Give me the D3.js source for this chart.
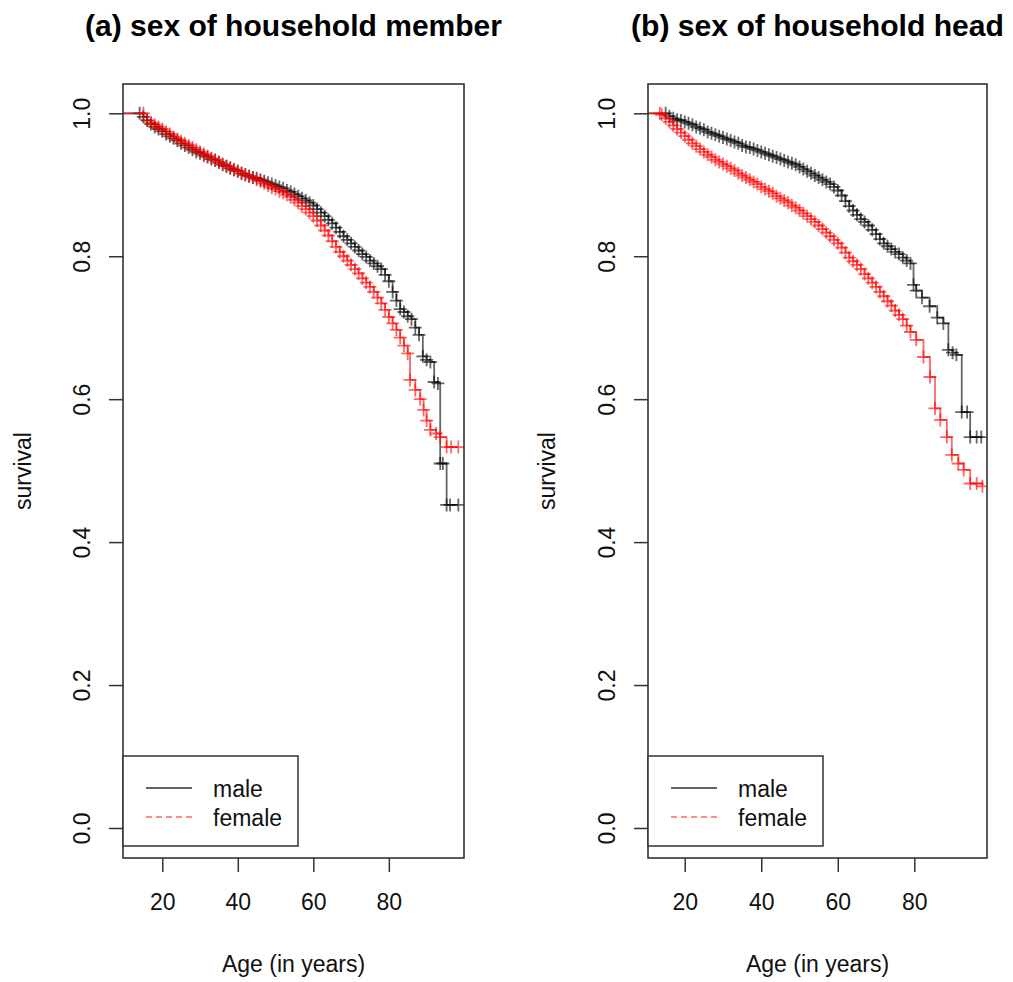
<!DOCTYPE html>
<html>
<head>
<meta charset="utf-8">
<script src="https://cdn.jsdelivr.net/npm/d3@7/dist/d3.min.js"></script>
<style>
  html, body { margin: 0; padding: 0; background: #fff; }
  svg { display: block; font-family: "Liberation Sans", Arial, sans-serif; }
</style>
</head>
<body>
<script>
// ---- data ----
var panelTitles = ["(a) sex of household member", "(b) sex of household head"];
var legendLabels = ["male", "female"];
var xTicks = [20, 40, 60, 80];
var yTicks = [0, 0.2, 0.4, 0.6, 0.8, 1.0];

// (a) sex of household member
var memberMaleAge  = [0, 14, 15, 16, 17, 18, 19, 20, 21, 22, 23, 24, 25, 26, 27, 28, 29, 30, 31, 32, 33, 34, 35, 36, 37, 38, 39, 40, 41, 42, 43, 44, 45, 46, 47, 48, 49, 50, 51, 52, 53, 54, 55, 56, 57, 58, 59, 60, 61, 62, 63, 64, 65, 66, 67, 68, 69, 70, 71, 72, 73, 74, 75, 76, 77, 78, 79, 80, 81, 82, 83, 84, 85, 86, 87, 88, 89, 90, 91, 92, 93, 93.6, 94.3, 95.3, 96.2, 98.4];
var memberMaleSurv = [1, 1, 0.995, 0.99, 0.985, 0.981, 0.978, 0.975, 0.971, 0.968, 0.965, 0.962, 0.958, 0.955, 0.952, 0.949, 0.946, 0.944, 0.941, 0.939, 0.936, 0.934, 0.931, 0.928, 0.926, 0.923, 0.921, 0.919, 0.916, 0.914, 0.912, 0.91, 0.909, 0.907, 0.905, 0.903, 0.901, 0.899, 0.897, 0.895, 0.892, 0.89, 0.887, 0.884, 0.881, 0.878, 0.875, 0.871, 0.866, 0.861, 0.856, 0.851, 0.846, 0.84, 0.834, 0.828, 0.823, 0.818, 0.813, 0.808, 0.803, 0.799, 0.794, 0.79, 0.786, 0.782, 0.774, 0.765, 0.75, 0.738, 0.726, 0.722, 0.716, 0.712, 0.7, 0.69, 0.66, 0.655, 0.652, 0.624, 0.622, 0.51, 0.51, 0.452, 0.452, 0.452];
var memberFemaleAge  = [0, 15, 16, 17, 18, 19, 20, 21, 22, 23, 24, 25, 26, 27, 28, 29, 30, 31, 32, 33, 34, 35, 36, 37, 38, 39, 40, 41, 42, 43, 44, 45, 46, 47, 48, 49, 50, 51, 52, 53, 54, 55, 56, 57, 58, 59, 60, 61, 62, 63, 64, 65, 66, 67, 68, 69, 70, 71, 72, 73, 74, 75, 76, 77, 78, 79, 80, 81, 82, 83, 84, 85, 85.6, 87, 88.3, 89.2, 90, 91, 92.5, 93.6, 95.3, 96.5, 98.4];
var memberFemaleSurv = [1, 1, 0.99, 0.987, 0.984, 0.981, 0.978, 0.974, 0.971, 0.967, 0.964, 0.961, 0.958, 0.955, 0.952, 0.949, 0.946, 0.943, 0.94, 0.937, 0.935, 0.932, 0.929, 0.926, 0.924, 0.921, 0.919, 0.916, 0.914, 0.912, 0.91, 0.907, 0.905, 0.902, 0.899, 0.896, 0.894, 0.891, 0.889, 0.886, 0.883, 0.879, 0.875, 0.87, 0.866, 0.861, 0.856, 0.85, 0.843, 0.836, 0.829, 0.821, 0.813, 0.806, 0.8, 0.794, 0.788, 0.782, 0.776, 0.769, 0.763, 0.757, 0.75, 0.742, 0.734, 0.725, 0.715, 0.706, 0.697, 0.686, 0.675, 0.664, 0.627, 0.613, 0.6, 0.585, 0.57, 0.557, 0.552, 0.547, 0.533, 0.533, 0.533];

// (b) sex of household head
var headMaleAge  = [0, 15, 16, 17, 18, 19, 20, 21, 22, 23, 24, 25, 26, 27, 28, 29, 30, 31, 32, 33, 34, 35, 36, 37, 38, 39, 40, 41, 42, 43, 44, 45, 46, 47, 48, 49, 50, 51, 52, 53, 54, 55, 56, 57, 58, 59, 60, 61, 62, 63, 64, 65, 66, 67, 68, 69, 70, 71, 72, 73, 74, 75, 76, 77, 78, 79, 79.8, 80.5, 82, 84, 86, 87.6, 88.9, 90, 91, 92.4, 93.8, 94.6, 96.3, 97.5];
var headMaleSurv = [1, 1, 0.996, 0.993, 0.991, 0.99, 0.988, 0.986, 0.984, 0.981, 0.979, 0.977, 0.974, 0.972, 0.97, 0.968, 0.966, 0.964, 0.962, 0.96, 0.958, 0.955, 0.953, 0.952, 0.95, 0.948, 0.946, 0.944, 0.942, 0.94, 0.938, 0.936, 0.934, 0.932, 0.93, 0.928, 0.925, 0.922, 0.919, 0.916, 0.913, 0.91, 0.907, 0.904, 0.901, 0.897, 0.892, 0.885, 0.877, 0.87, 0.864, 0.858, 0.852, 0.848, 0.843, 0.837, 0.831, 0.824, 0.818, 0.814, 0.81, 0.806, 0.803, 0.798, 0.794, 0.79, 0.76, 0.752, 0.742, 0.73, 0.714, 0.706, 0.669, 0.665, 0.662, 0.582, 0.582, 0.547, 0.547, 0.547];
var headFemaleAge  = [0, 13.5, 14, 15, 16, 17, 18, 19, 20, 21, 22, 23, 24, 25, 26, 27, 28, 29, 30, 31, 32, 33, 34, 35, 36, 37, 38, 39, 40, 41, 42, 43, 44, 45, 46, 47, 48, 49, 50, 51, 52, 53, 54, 55, 56, 57, 58, 59, 60, 61, 62, 63, 64, 65, 66, 67, 68, 69, 70, 71, 72, 73, 74, 75, 76, 77, 78, 79, 80.5, 82.4, 84.1, 85.4, 86.8, 88.5, 89.8, 91.5, 92.9, 94.6, 96.3, 97.8];
var headFemaleSurv = [1, 1, 0.998, 0.993, 0.988, 0.983, 0.978, 0.973, 0.968, 0.963, 0.958, 0.954, 0.95, 0.946, 0.942, 0.939, 0.935, 0.932, 0.929, 0.926, 0.923, 0.92, 0.916, 0.913, 0.91, 0.907, 0.904, 0.901, 0.897, 0.894, 0.891, 0.888, 0.884, 0.881, 0.878, 0.875, 0.871, 0.868, 0.864, 0.86, 0.856, 0.852, 0.848, 0.843, 0.838, 0.833, 0.828, 0.823, 0.818, 0.812, 0.805, 0.798, 0.793, 0.788, 0.782, 0.775, 0.769, 0.763, 0.757, 0.75, 0.744, 0.737, 0.731, 0.724, 0.718, 0.712, 0.703, 0.694, 0.683, 0.659, 0.631, 0.587, 0.571, 0.547, 0.522, 0.51, 0.501, 0.482, 0.482, 0.478];

var W = 1013, H = 982;
var svg = d3.select("body").append("svg").attr("width", W).attr("height", H);

var maleCol = "rgba(0,0,0,0.6)";
var femaleCol = "rgba(255,0,0,0.6)";

function zip(ages, surv) {
  return ages.map(function (a, i) { return {age: a, s: surv[i]}; });
}

function drawPanel(opts) {
  var x = d3.scaleLinear().domain(opts.xdom).range([opts.left, opts.right]);
  var y = d3.scaleLinear().domain([-0.042, 1.041]).range([858, 84]);
  var g = svg.append("g");
  var clipId = "clip" + opts.id;
  g.append("clipPath").attr("id", clipId).append("rect")
    .attr("x", opts.left).attr("y", 84).attr("width", opts.right - opts.left).attr("height", 774);

  // axes
  var xAxis = g.append("g").attr("transform", "translate(0,858)")
    .call(d3.axisBottom(x).tickValues(xTicks).tickSize(14).tickPadding(22).tickFormat(d3.format("d")));
  var yAxis = g.append("g").attr("transform", "translate(" + opts.left + ",0)")
    .call(d3.axisLeft(y).tickValues(yTicks).tickSize(14).tickFormat(d3.format(".1f")));
  [xAxis, yAxis].forEach(function (a) {
    a.select(".domain").remove();
    a.selectAll("line").attr("stroke", "#333").attr("stroke-width", 1.5);
  });
  xAxis.selectAll("text").attr("font-size", 23).attr("fill", "#111")
    .attr("font-family", "Liberation Sans, Arial, sans-serif").attr("dy", "0.71em");
  yAxis.selectAll("text").attr("font-size", 23).attr("fill", "#111")
    .attr("font-family", "Liberation Sans, Arial, sans-serif")
    .attr("x", null).attr("dy", null)
    .attr("text-anchor", "middle")
    .attr("transform", "translate(" + (opts.tickLabX - opts.left) + ",0) rotate(-90)")
    .attr("y", 0);

  // curves
  var line = d3.line().curve(d3.curveStepAfter)
    .x(function (d) { return x(d.age); }).y(function (d) { return y(d.s); });
  var plot = g.append("g").attr("clip-path", "url(#" + clipId + ")");
  opts.series.forEach(function (ser) {
    var pts = zip(ser.age, ser.surv);
    plot.append("path").datum(pts).attr("d", line)
      .attr("fill", "none").attr("stroke", ser.col).attr("stroke-width", 1.8);
    var hs = 6.5;
    plot.selectAll(null).data(pts.slice(1)).enter().append("path")
      .attr("d", function (d) {
        var cx = x(d.age), cy = y(d.s);
        return "M" + (cx - hs) + "," + cy + "H" + (cx + hs) + "M" + cx + "," + (cy - hs) + "V" + (cy + hs);
      })
      .attr("stroke", ser.col).attr("stroke-width", 1.8).attr("fill", "none");
  });

  // box
  g.append("rect").attr("x", opts.left).attr("y", 84)
    .attr("width", opts.right - opts.left).attr("height", 774)
    .attr("fill", "none").attr("stroke", "#333").attr("stroke-width", 1.6);

  // legend
  var lg = g.append("g");
  lg.append("rect").attr("x", opts.left).attr("y", 756).attr("width", 175).attr("height", 90)
    .attr("fill", "#fff").attr("stroke", "#333").attr("stroke-width", 1.5);
  lg.append("line").attr("x1", opts.left + 23).attr("x2", opts.left + 69).attr("y1", 788).attr("y2", 788)
    .attr("stroke", maleCol).attr("stroke-width", 2);
  lg.append("line").attr("x1", opts.left + 23).attr("x2", opts.left + 69).attr("y1", 817).attr("y2", 817)
    .attr("stroke", "rgba(255,0,0,0.45)").attr("stroke-width", 2).attr("stroke-dasharray", "6,4");
  lg.selectAll("text.lab").data(legendLabels).enter().append("text")
    .attr("x", opts.left + 90).attr("y", function (d, i) { return 797 + i * 29; })
    .attr("font-size", 23).attr("fill", "#111").text(function (d) { return d; });

  // titles
  var cx = (opts.left + opts.right) / 2;
  g.append("text").attr("x", cx).attr("y", 36).attr("text-anchor", "middle")
    .attr("font-size", 29).attr("font-weight", "bold").attr("fill", "#000")
    .attr("textLength", opts.titleLen).attr("lengthAdjust", "spacingAndGlyphs")
    .text(opts.title);
  g.append("text").attr("x", cx).attr("y", 972).attr("text-anchor", "middle")
    .attr("font-size", 23).attr("fill", "#111").text("Age (in years)");
  g.append("text").attr("transform", "translate(" + opts.yLabX + ",471) rotate(-90)")
    .attr("text-anchor", "middle").attr("font-size", 23).attr("fill", "#111").text("survival");
}

drawPanel({
  id: "a", left: 123, right: 464, xdom: [9.6, 99.9], tickLabX: 90, yLabX: 31,
  title: panelTitles[0], titleLen: 417,
  series: [
    {age: memberMaleAge, surv: memberMaleSurv, col: maleCol},
    {age: memberFemaleAge, surv: memberFemaleSurv, col: femaleCol}
  ]
});
drawPanel({
  id: "b", left: 648, right: 987, xdom: [10.4, 99.0], tickLabX: 615, yLabX: 555,
  title: panelTitles[1], titleLen: 373,
  series: [
    {age: headMaleAge, surv: headMaleSurv, col: maleCol},
    {age: headFemaleAge, surv: headFemaleSurv, col: femaleCol}
  ]
});
</script>
</body>
</html>
